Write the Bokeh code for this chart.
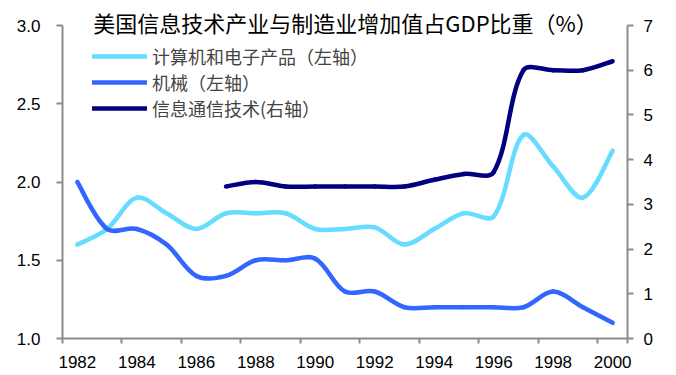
import math
from bokeh.plotting import figure
from bokeh.models import (Range1d, LinearAxis, FixedTicker, Label, Legend,
                          LegendItem, NumeralTickFormatter)
from bokeh.embed import file_html
from bokeh.resources import INLINE

# ---------------- data ----------------
years = [1982, 1983, 1984, 1985, 1986, 1987, 1988, 1989, 1990, 1991,
         1992, 1993, 1994, 1995, 1996, 1997, 1998, 1999, 2000]
computer = [1.6, 1.7, 1.9, 1.8, 1.7, 1.8, 1.8, 1.8, 1.7, 1.7,
            1.71, 1.6, 1.7, 1.8, 1.78, 2.3, 2.1, 1.9, 2.2]          # left axis
machinery = [2.0, 1.7, 1.7, 1.6, 1.4, 1.4, 1.5, 1.5, 1.51, 1.3,
             1.3, 1.2, 1.2, 1.2, 1.2, 1.2, 1.3, 1.2, 1.1]           # left axis
ict_years = [1987, 1988, 1989, 1990, 1991, 1992, 1993, 1994, 1995, 1996,
             1997, 1998, 1999, 2000]
ict = [3.4, 3.5, 3.4, 3.4, 3.4, 3.4, 3.4, 3.55, 3.68, 3.72,
       6.0, 6.0, 6.0, 6.2]                                           # right axis
left_ticks = [1.0, 1.5, 2.0, 2.5, 3.0]
right_ticks = [0, 1, 2, 3, 4, 5, 6, 7]
title_text = "美国信息技术产业与制造业增加值占GDP比重（%）"
names = ["计算机和电子产品（左轴）", "机械（左轴）", "信息通信技术(右轴）"]
colors = ["#66DDFF", "#3366FF", "#000080"]

# ---------------- layout constants ----------------
W, H = 676, 375
B_LEFT, B_RIGHT, B_TOP, B_BOTTOM = 62, 49, 5, 37
FRAME_W = W - B_LEFT - B_RIGHT
FRAME_H = H - B_TOP - B_BOTTOM
AXIS_TOP_PX = 20          # gap between frame top and the top tick (3.0 / 7)
L_MIN, L_MAX = 1.0, 3.0
R_MIN, R_MAX = 0.0, 7.0
l_scale = (FRAME_H - AXIS_TOP_PX) / (L_MAX - L_MIN)
r_scale = (FRAME_H - AXIS_TOP_PX) / (R_MAX - R_MIN)
x_scale = FRAME_W / len(years)

idx = {y: i for i, y in enumerate(years)}


def smooth_segments(xs, ys, ysc):
    """Bezier segments of a spreadsheet-style smoothed line (arm lengths
    proportional to the neighbouring segment lengths, in screen space)."""
    n = len(xs)
    out = dict(x0=[], y0=[], x1=[], y1=[], cx0=[], cy0=[], cx1=[], cy1=[])

    def seglen(a, b):
        return math.hypot((xs[b] - xs[a]) * x_scale, (ys[b] - ys[a]) * ysc)

    def arms(i):
        pm = i - 1 if i > 0 else i
        pp = i + 1 if i + 1 < n else i
        dx, dy = xs[pp] - xs[pm], ys[pp] - ys[pm]
        lb, lf = seglen(pm, i), seglen(i, pp)
        tot = lb + lf if lb + lf > 0 else 1
        if pm == i or pp == i:
            fb = ff = 1 / 6
        else:
            fb, ff = lb / tot / 3, lf / tot / 3
        return (dx * fb, dy * fb), (dx * ff, dy * ff)

    for i in range(n - 1):
        _, fwd = arms(i)
        back, _ = arms(i + 1)
        out["x0"].append(xs[i]); out["y0"].append(ys[i])
        out["x1"].append(xs[i + 1]); out["y1"].append(ys[i + 1])
        out["cx0"].append(xs[i] + fwd[0]); out["cy0"].append(ys[i] + fwd[1])
        out["cx1"].append(xs[i + 1] - back[0]); out["cy1"].append(ys[i + 1] - back[1])
    return out


p = figure(width=W, height=H, output_backend="svg", toolbar_location=None,
           x_range=Range1d(-0.5, len(years) - 0.5),
           y_range=Range1d(L_MIN, L_MAX + AXIS_TOP_PX / l_scale),
           min_border_left=B_LEFT, min_border_right=B_RIGHT, min_border_top=B_TOP,
           min_border_bottom=B_BOTTOM)
p.extra_y_ranges = {"right": Range1d(R_MIN, R_MAX + AXIS_TOP_PX / r_scale)}
p.outline_line_color = None
p.xgrid.visible = False
p.ygrid.visible = False
p.background_fill_color = "white"
p.border_fill_color = "white"

axis_color = "#8C8C8C"
font = "Liberation Sans"

# x axis: labels at category centres, ticks at category boundaries
xa = p.xaxis[0]
xa.ticker = FixedTicker(ticks=list(range(0, len(years), 2)),
                        minor_ticks=[i - 0.5 for i in range(0, len(years) + 1, 2)] + [len(years) - 0.5])
xa.major_label_overrides = {i: str(years[i]) for i in range(0, len(years), 2)}
xa.major_tick_line_color = None
xa.major_tick_out = 0
xa.major_tick_in = 0
xa.minor_tick_out = 5
xa.minor_tick_in = 0
xa.minor_tick_line_color = axis_color
xa.minor_tick_line_width = 2
xa.axis_line_color = axis_color
xa.axis_line_width = 2
xa.major_label_standoff = 12
xa.major_label_text_font = font
xa.major_label_text_font_size = "17px"
xa.major_label_text_color = "black"

ya = p.yaxis[0]
ya.ticker = FixedTicker(ticks=left_ticks)
ya.bounds = (L_MIN, L_MAX)
ya.formatter = NumeralTickFormatter(format="0.0")
ya.minor_tick_line_color = None
ya.major_tick_out = 6
ya.major_tick_in = 0
ya.major_tick_line_color = axis_color
ya.major_tick_line_width = 2
ya.axis_line_color = axis_color
ya.axis_line_width = 2
ya.major_label_standoff = 16
ya.major_label_text_font = font
ya.major_label_text_font_size = "17px"
ya.major_label_text_color = "black"

ra = LinearAxis(y_range_name="right", ticker=FixedTicker(ticks=right_ticks),
                formatter=NumeralTickFormatter(format="0"), bounds=(R_MIN, R_MAX))
ra.minor_tick_line_color = None
ra.major_tick_out = 6
ra.major_tick_in = 0
ra.major_tick_line_color = axis_color
ra.major_tick_line_width = 2
ra.axis_line_color = axis_color
ra.axis_line_width = 2
ra.major_label_standoff = 10
ra.major_label_text_font = font
ra.major_label_text_font_size = "17px"
ra.major_label_text_color = "black"
p.add_layout(ra, "right")

# ---------------- series ----------------
xs_all = [idx[y] for y in years]
r1 = p.bezier(source=smooth_segments(xs_all, computer, l_scale), x0="x0", y0="y0", x1="x1",
              y1="y1", cx0="cx0", cy0="cy0", cx1="cx1", cy1="cy1",
              line_color=colors[0], line_width=4.5, line_cap="round")
r2 = p.bezier(source=smooth_segments(xs_all, machinery, l_scale), x0="x0", y0="y0", x1="x1",
              y1="y1", cx0="cx0", cy0="cy0", cx1="cx1", cy1="cy1",
              line_color=colors[1], line_width=4.5, line_cap="round")
r3 = p.bezier(source=smooth_segments([idx[y] for y in ict_years], ict, r_scale), x0="x0",
              y0="y0", x1="x1", y1="y1", cx0="cx0", cy0="cy0", cx1="cx1", cy1="cy1",
              line_color=colors[2], line_width=4.5, line_cap="round", y_range_name="right")

legend = Legend(items=[LegendItem(label=names[0], renderers=[r1]),
                       LegendItem(label=names[1], renderers=[r2]),
                       LegendItem(label=names[2], renderers=[r3])],
                location=(30, 217), border_line_color=None, background_fill_alpha=0,
                glyph_width=55, glyph_height=20, label_standoff=5, spacing=0,
                padding=0, margin=0, label_text_font="Noto Sans CJK SC",
                label_text_font_size="18px", label_height=20)
p.add_layout(legend)

p.add_layout(Label(x=9.02, y=L_MAX + 4 / l_scale, text=title_text, text_align="center",
                   text_baseline="middle", text_font="Noto Sans CJK SC",
                   text_font_size="22px", text_color="black"))

open("out.html", "w").write(file_html(p, INLINE))
